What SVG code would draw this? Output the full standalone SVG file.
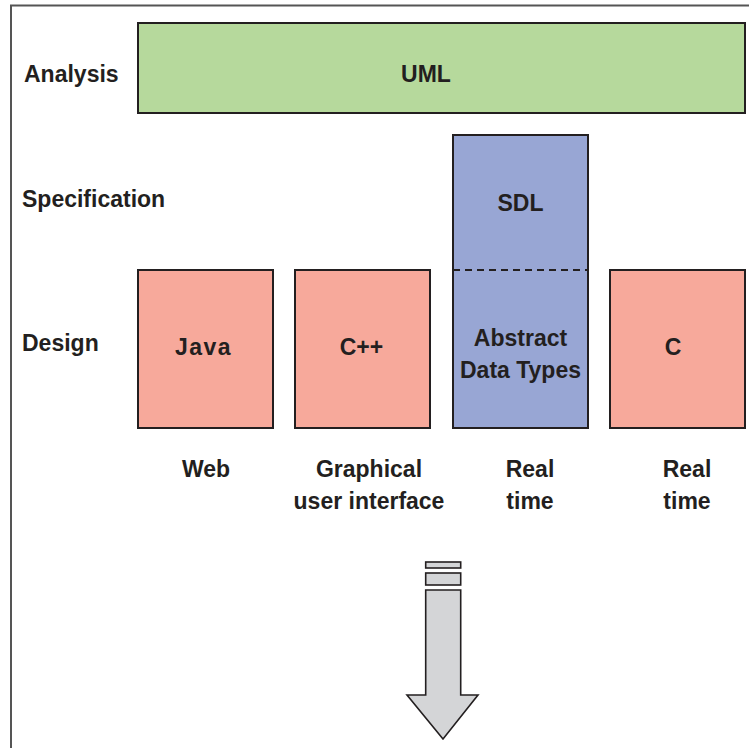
<svg xmlns="http://www.w3.org/2000/svg" width="749" height="748" viewBox="0 0 749 748">
<style>
text{font-family:"Liberation Sans",Arial,sans-serif;font-weight:bold;font-size:23px;fill:#231f20}
.c{text-anchor:middle}
.box{stroke:#231f20;stroke-width:2}
.green{fill:#b6d99c}
.blue{fill:#98a6d4}
.red{fill:#f7a99b}
.frame{fill:none;stroke:#555;stroke-width:2}
.arrow{fill:#d4d5d7;stroke:#231f20;stroke-width:1.6}
</style>
<rect width="749" height="748" fill="#fff"/>
<path class="frame" d="M11,748 V5.5 H749"/>
<g id="labels">
<text x="24" y="82">Analysis</text>
<text x="22" y="207">Specification</text>
<text x="22" y="351">Design</text>
</g>
<g id="uml"><rect class="box green" x="138" y="23" width="607" height="90"/><text class="c" x="426" y="82" font-size="24">UML</text></g>
<g id="sdl-adt"><rect class="box blue" x="453" y="135" width="135" height="293"/>
<line x1="453" y1="270" x2="588" y2="270" stroke="#231f20" stroke-width="2" stroke-dasharray="7,5"/>
<text class="c" x="520.5" y="211">SDL</text>
<text class="c" x="520.5" y="346">Abstract</text>
<text class="c" x="520.5" y="378">Data Types</text></g>
<g id="java"><rect class="box red" x="138" y="270" width="135" height="158"/><text class="c" x="203.5" y="355" letter-spacing="1.5">Java</text></g>
<g id="cpp"><rect class="box red" x="295" y="270" width="135" height="158"/><text class="c" x="361.5" y="355">C++</text></g>
<g id="c"><rect class="box red" x="610" y="270" width="135" height="158"/><text class="c" x="673" y="355">C</text></g>
<g id="domains">
<text class="c" x="206" y="477">Web</text>
<text class="c" x="369" y="477">Graphical</text>
<text class="c" x="369" y="509">user interface</text>
<text class="c" x="530" y="477">Real</text>
<text class="c" x="530" y="509">time</text>
<text class="c" x="687" y="477">Real</text>
<text class="c" x="687" y="509">time</text>
</g>
<g id="connectors">
<rect class="arrow" x="425.7" y="562" width="35" height="6"/>
<rect class="arrow" x="425.7" y="573" width="35" height="12"/>
<path class="arrow" d="M425.7,590 H460.7 V695 H478 L443,739 L407,695 H425.7 Z"/>
</g>
</svg>
